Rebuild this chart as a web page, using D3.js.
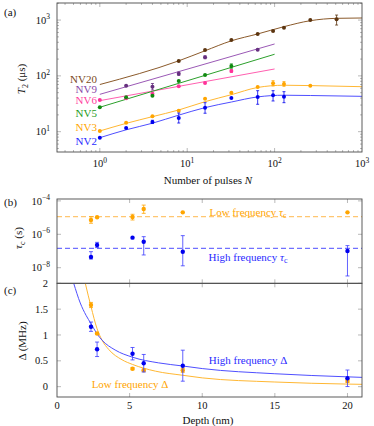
<!DOCTYPE html>
<html>
<head>
<meta charset="utf-8">
<script src="https://cdn.jsdelivr.net/npm/d3@7"></script>
<style>
  body { margin: 0; background: #fff; }
  svg text { fill: #111; }
</style>
</head>
<body>
<script>
const width = 374;
const height = 426;

// ---- (a) T2 vs number of pulses: [N, T2 (us), errLo, errHi]
const nv20 = [[8,185],[16,291],[32,440],[64,563],[96,638],[128,731],[256,1004],[512,1033,815,1230]];
const nv9 = [[2,66.7],[4,64,56,73],[8,109,102,117],[16,215,203,228],[64,295]];
const nv6 = [[1,37],[2,39.7],[4,48],[8,65],[16,74.7],[32,122,115,130]];
const nv5 = [[1,27.4],[2,41.3],[4,44.1],[8,81],[16,104],[32,150,137,164]];
const nv3 = [[1,10.3],[2,14.5],[4,18.9],[8,23.8],[16,39],[32,50],[64,63],[96,73.6,66,82],[128,71.7,65,79],[256,66.7]];
const nv2 = [[1,7.8],[2,11.6],[4,14.9,14,16],[8,17.6,14.3,21.6],[16,26.9,21.4,33.1],[32,40.2],[64,41.9,31,54.3],[96,44.9,35.5,54.3],[128,42.4,33.1,52.1]];

// fitted curves
const fit20 = [[1,70],[8,186],[16,282],[32,425],[64,564],[128,762],[256,975],[512,1075],[1000,1090]];
const fit9 = [[1,46.7],[100,373]];
const fit6 = [[1,36],[100,133]];
const fit5 = [[1,27.4],[100,244]];
const fit3 = [[1,10.3],[2,14.1],[4,18.6],[8,24.5],[16,34.5],[32,46],[64,62],[128,68],[256,67],[1000,64]];
const fit2 = [[1,7.8],[2,10.8],[4,14.2],[8,19.8],[16,27],[32,34],[64,42],[128,45],[256,44.5],[1000,43]];

// ---- (b), (c) vs depth (nm)
const depth = [2.34, 2.76, 5.2, 5.97, 8.66, 20];
const tauLow = [7.2e-6, 1.04e-5, 1.09e-5, 3.3e-5, 2.07e-5, 2.07e-5];
const tauLowErr = [[4.6e-6,1.13e-5], null, [7.2e-6,1.58e-5], [1.8e-5,5.6e-5], null, null];
const tauHigh = [4.4e-8, 2.3e-7, 6.3e-7, 3.6e-7, 9.1e-8, 1.0e-7];
const tauHighErr = [[3.3e-8,9.1e-8], [1.6e-7,3.3e-7], null, [5.8e-8,7.2e-7], [1.3e-8,8.3e-7], [3.2e-9,2.1e-7]];
const tauLowFit = 1.13e-5;
const tauHighFit = 1.45e-7;

const deltaLow = [1.58, 1.03, 0.348, 0.317, 0.317, 0.11];
const deltaLowErr = [0.05, 0.02, 0.02, 0.02, 0.04, 0.03];
const deltaHigh = [1.16, 0.723, 0.638, 0.453, 0.406, 0.162];
const deltaHighErr = [0.09, 0.14, 0.12, 0.17, 0.30, 0.16];
const deltaLowFit = [[1.95,2.0],[2.34,1.55],[2.76,1.12],[3.1,0.9],[3.56,0.72],[4.48,0.52],[5.2,0.43],[6.78,0.30],[8.66,0.22],[10,0.17],[15,0.09],[20,0.05],[21,0.045]];
const deltaHighFit = [[1.15,2.0],[1.6,1.62],[2.0,1.38],[2.34,1.22],[2.76,1.02],[3.1,0.9],[4,0.71],[5.2,0.57],[7,0.46],[8.66,0.4],[10,0.35],[15,0.25],[20,0.19],[21,0.18]];

const serif = "'Liberation Serif', 'DejaVu Serif', 'Times New Roman', serif";
const svg = d3.select('body').append('svg').attr('width', width).attr('height', height)
  .attr('font-family', serif).style('font-family', serif);

const left = 57, right = 362;
const borderColor = "#4a4a4a", tickColor = "#8a8a8a";

// draw inward ticks on all four sides
function drawTicks(g, x, y, xVals, yVals, len) {
  const [yb, yt] = y.range();
  g.selectAll(null).data(xVals).enter().append("path")
    .attr("d", d => `M${x(d)},${yb}v${-len}M${x(d)},${yt}v${len}`)
    .style("stroke", tickColor).style("stroke-width", 0.6);
  g.selectAll(null).data(yVals).enter().append("path")
    .attr("d", d => `M${left},${y(d)}h${len}M${right},${y(d)}h${-len}`)
    .style("stroke", tickColor).style("stroke-width", 0.6);
}

function drawBox(g, y) {
  const [yb, yt] = y.range();
  g.append("rect").attr("x", left).attr("y", yt).attr("width", right - left).attr("height", yb - yt)
    .style("fill", "none").style("stroke", borderColor).style("stroke-width", 0.9);
}

function powerLabel(sel, exp) {
  sel.text("10");
  sel.append("tspan").attr("dy", -4.5).style("font-size", "7.5px").text(exp);
}

function errorBars(g, data, color, capW) {
  g.selectAll(null).data(data.filter(d => d.lo != null)).enter().append("path")
    .attr("d", d => `M${d.x},${d.lo}V${d.hi}M${d.x - capW},${d.lo}h${2 * capW}M${d.x - capW},${d.hi}h${2 * capW}`)
    .style("stroke", color).style("stroke-width", 0.8).style("fill", "none");
}

// ================= panel (a)
const xA = d3.scaleLog().domain([10 ** -0.49, 1000]).range([left, right]);
const yA = d3.scaleLog().domain([10 ** 0.636, 10 ** 3.306]).range([152, 3]);
const gA = svg.append("g");

const minorX = [0.4,0.5,0.6,0.7,0.8,0.9,2,3,4,5,6,7,8,9,20,30,40,50,60,70,80,90,200,300,400,500,600,700,800,900];
const minorY = [5,6,7,8,9,20,30,40,50,60,70,80,90,200,300,400,500,600,700,800,900,2000];
drawTicks(gA, xA, yA, [1,10,100], [10,100,1000], 4);
drawTicks(gA, xA, yA, minorX, minorY, 2);

const seriesA = [
  {name: "NV20", pts: nv20, fit: fit20, line: "#8b5a2b", dot: "#5c3510", text: "#7a4a22"},
  {name: "NV9", pts: nv9, fit: fit9, line: "#9b59b6", dot: "#66307f", text: "#8a47a8"},
  {name: "NV6", pts: nv6, fit: fit6, line: "#ff5fb0", dot: "#ff3399", text: "#ff40a0"},
  {name: "NV5", pts: nv5, fit: fit5, line: "#2ca02c", dot: "#108a10", text: "#1c9a1c"},
  {name: "NV3", pts: nv3, fit: fit3, line: "#ffb733", dot: "#ffa500", text: "#ffa500"},
  {name: "NV2", pts: nv2, fit: fit2, line: "#4f4fff", dot: "#0000ee", text: "#2a2aff"}
];

const lineA = d3.line().x(d => xA(d[0])).y(d => yA(d[1])).curve(d3.curveMonotoneX);
gA.selectAll("path.fit").data(seriesA).enter().append("path")
  .attr("class", "fit")
  .attr("d", d => lineA(d.fit))
  .style("fill", "none").style("stroke", d => d.line).style("stroke-width", 1);

seriesA.forEach(s => {
  const pts = s.pts.map(p => ({x: xA(p[0]), y: yA(p[1]),
    lo: p[2] != null ? yA(p[2]) : null, hi: p[3] != null ? yA(p[3]) : null}));
  errorBars(gA, pts, s.dot, 1.5);
  gA.selectAll(null).data(pts).enter().append("circle")
    .attr("cx", d => d.x).attr("cy", d => d.y).attr("r", 2)
    .style("fill", s.dot);
});

// series names
const nameY = [79, 89.5, 100.5, 113, 127.5, 141];
gA.selectAll("text.nv").data(seriesA).enter().append("text")
  .attr("class", "nv")
  .attr("x", 97).attr("y", (d, i) => nameY[i]).attr("dy", "0.35em")
  .attr("text-anchor", "end")
  .style("font-size", "11px").style("fill", d => d.text)
  .text(d => d.name);

drawBox(gA, yA);

// axis labels (a)
gA.selectAll("text.xt").data([0,1,2,3]).enter().append("text")
  .attr("class", "xt").attr("x", d => xA(10 ** d)).attr("y", 167)
  .attr("text-anchor", "middle").style("font-size", "10.5px")
  .each(function(d) { powerLabel(d3.select(this), d); });
gA.selectAll("text.yt").data([1,2,3]).enter().append("text")
  .attr("class", "yt").attr("x", 50).attr("y", d => yA(10 ** d) + 3.6)
  .attr("text-anchor", "end").style("font-size", "10.5px")
  .each(function(d) { powerLabel(d3.select(this), d); });

const xlabA = gA.append("text").attr("x", 208).attr("y", 183.5).attr("text-anchor", "middle").style("font-size", "11px");
xlabA.append("tspan").text("Number of pulses ");
xlabA.append("tspan").style("font-style", "italic").text("N");

const ylabA = gA.append("text").attr("transform", "translate(21,79) rotate(-90)")
  .attr("text-anchor", "middle").attr("dy", "0.35em").style("font-size", "11px");
ylabA.append("tspan").style("font-style", "italic").text("T");
ylabA.append("tspan").attr("dy", 3).style("font-size", "8px").text("2");
ylabA.append("tspan").attr("dy", -3).text(" (μs)");

gA.append("text").attr("x", 4).attr("y", 16).style("font-size", "11px").text("(a)");

// ================= panel (b)
const xB = d3.scaleLinear().domain([0, 21]).range([left, right]);
const yB = d3.scaleLog().domain([10 ** -8.934, 10 ** -3.886]).range([283.3, 199]);
const gB = svg.append("g");
drawTicks(gB, xB, yB, [5,10,15,20], [1e-4,1e-6,1e-8], 4);

gB.append("line").attr("x1", left).attr("x2", right).attr("y1", yB(tauLowFit)).attr("y2", yB(tauLowFit))
  .style("stroke", "#ffb84d").style("stroke-width", 1).style("stroke-dasharray", "5,3");
gB.append("line").attr("x1", left).attr("x2", right).attr("y1", yB(tauHighFit)).attr("y2", yB(tauHighFit))
  .style("stroke", "#4d4dff").style("stroke-width", 1).style("stroke-dasharray", "5,3");

const ptsBLow = depth.map((d, i) => ({x: xB(d), y: yB(tauLow[i]),
  lo: tauLowErr[i] ? yB(tauLowErr[i][0]) : null, hi: tauLowErr[i] ? yB(tauLowErr[i][1]) : null}));
const ptsBHigh = depth.map((d, i) => ({x: xB(d), y: yB(tauHigh[i]),
  lo: tauHighErr[i] ? yB(tauHighErr[i][0]) : null, hi: tauHighErr[i] ? yB(tauHighErr[i][1]) : null}));
errorBars(gB, ptsBLow, "#ffa500", 2);
errorBars(gB, ptsBHigh, "#3b3bff", 2);
gB.selectAll(null).data(ptsBLow).enter().append("circle")
  .attr("cx", d => d.x).attr("cy", d => d.y).attr("r", 2.2).style("fill", "#ffa500");
gB.selectAll(null).data(ptsBHigh).enter().append("circle")
  .attr("cx", d => d.x).attr("cy", d => d.y).attr("r", 2.2).style("fill", "#0000ee");

const lowTau = gB.append("text").attr("x", 248).attr("y", 212).attr("dy", "0.35em")
  .attr("text-anchor", "middle").style("font-size", "11px").style("fill", "#ffa500");
lowTau.append("tspan").text("Low frequency ");
lowTau.append("tspan").style("font-style", "italic").text("τ");
lowTau.append("tspan").attr("dy", 2.5).style("font-size", "8px").text("c");
const highTau = gB.append("text").attr("x", 248).attr("y", 257).attr("dy", "0.35em")
  .attr("text-anchor", "middle").style("font-size", "11px").style("fill", "#2a2aff");
highTau.append("tspan").text("High frequency ");
highTau.append("tspan").style("font-style", "italic").text("τ");
highTau.append("tspan").attr("dy", 2.5).style("font-size", "8px").text("c");

drawBox(gB, yB);

gB.selectAll("text.yt").data([-4,-6,-8]).enter().append("text")
  .attr("class", "yt").attr("x", 50).attr("y", d => yB(10 ** d) + 3.6)
  .attr("text-anchor", "end").style("font-size", "10.5px")
  .each(function(d) { powerLabel(d3.select(this), "\u2212" + (-d)); });

const ylabB = gB.append("text").attr("transform", "translate(18,238) rotate(-90)")
  .attr("text-anchor", "middle").attr("dy", "0.35em").style("font-size", "11px");
ylabB.append("tspan").style("font-style", "italic").text("τ");
ylabB.append("tspan").attr("dy", 3).style("font-size", "8px").text("c");
ylabB.append("tspan").attr("dy", -3).text(" (s)");

gB.append("text").attr("x", 4).attr("y", 206).style("font-size", "11px").text("(b)");

// ================= panel (c)
const xC = d3.scaleLinear().domain([0, 21]).range([left, right]);
const yC = d3.scaleLinear().domain([-0.2, 2]).range([397, 283.3]);
const gC = svg.append("g");
drawTicks(gC, xC, yC, [5,10,15,20], [0,0.5,1,1.5,2], 4);

svg.append("clipPath").attr("id", "clipC").append("rect")
  .attr("x", left).attr("y", 283.3).attr("width", right - left).attr("height", 397 - 283.3);

const lineC = d3.line().x(d => xC(d[0])).y(d => yC(d[1])).curve(d3.curveMonotoneX);
gC.append("path").attr("d", lineC(deltaLowFit)).attr("clip-path", "url(#clipC)")
  .style("fill", "none").style("stroke", "#ffb733").style("stroke-width", 1);
gC.append("path").attr("d", lineC(deltaHighFit)).attr("clip-path", "url(#clipC)")
  .style("fill", "none").style("stroke", "#4f4fff").style("stroke-width", 1);

const ptsCLow = depth.map((d, i) => ({x: xC(d), y: yC(deltaLow[i]),
  lo: yC(deltaLow[i] - deltaLowErr[i]), hi: yC(deltaLow[i] + deltaLowErr[i])}));
const ptsCHigh = depth.map((d, i) => ({x: xC(d), y: yC(deltaHigh[i]),
  lo: yC(deltaHigh[i] - deltaHighErr[i]), hi: yC(deltaHigh[i] + deltaHighErr[i])}));
errorBars(gC, ptsCLow, "#ffa500", 2);
gC.selectAll(null).data(ptsCLow).enter().append("circle")
  .attr("cx", d => d.x).attr("cy", d => d.y).attr("r", 2.2).style("fill", "#ffa500");
errorBars(gC, ptsCHigh, "#3b3bff", 2);
gC.selectAll(null).data(ptsCHigh).enter().append("circle")
  .attr("cx", d => d.x).attr("cy", d => d.y).attr("r", 2.2).style("fill", "#0000ee");

gC.append("text").attr("x", 248).attr("y", 360).attr("dy", "0.35em").attr("text-anchor", "middle")
  .style("font-size", "11px").style("fill", "#2a2aff").text("High frequency Δ");
gC.append("text").attr("x", 130).attr("y", 384).attr("dy", "0.35em").attr("text-anchor", "middle")
  .style("font-size", "11px").style("fill", "#ffa500").text("Low frequency Δ");

drawBox(gC, yC);

gC.selectAll("text.xt").data([0,5,10,15,20]).enter().append("text")
  .attr("class", "xt").attr("x", d => xC(d)).attr("y", 409)
  .attr("text-anchor", "middle").style("font-size", "10.5px").text(d => d);
gC.selectAll("text.yt").data([0,0.5,1,1.5,2]).enter().append("text")
  .attr("class", "yt").attr("x", 48).attr("y", d => yC(d) + 3.6)
  .attr("text-anchor", "end").style("font-size", "10.5px").text(d => d);

gC.append("text").attr("x", 208).attr("y", 423.5).attr("text-anchor", "middle")
  .style("font-size", "11px").text("Depth (nm)");
gC.append("text").attr("transform", "translate(22,341) rotate(-90)")
  .attr("text-anchor", "middle").attr("dy", "0.35em").style("font-size", "11px").text("Δ (MHz)");

gC.append("text").attr("x", 4).attr("y", 294).style("font-size", "11px").text("(c)");
</script>
</body>
</html>
